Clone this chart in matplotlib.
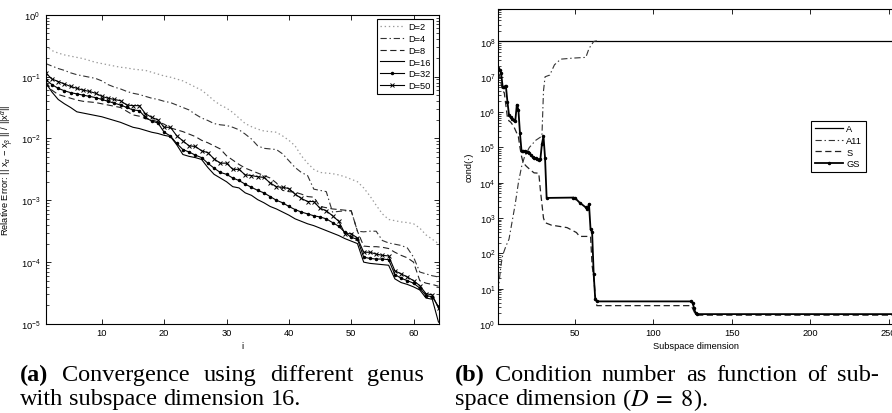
#plot convergence and condition number figures
import matplotlib
matplotlib.use('Agg')
import matplotlib.pyplot as plt
import numpy as np
from matplotlib.transforms import IdentityTransform

# ---- data: left panel, log10 of relative error per iteration i ----
iters = list(range(1, 65))
d2_log = [-0.50, -0.58, -0.62, -0.65, -0.67, -0.69, -0.71, -0.74, -0.77, -0.79,
          -0.81, -0.83, -0.85, -0.86, -0.88, -0.89, -0.90, -0.93, -0.96, -0.99,
          -1.01, -1.04, -1.07, -1.12, -1.17, -1.22, -1.30, -1.39, -1.46, -1.51,
          -1.58, -1.67, -1.76, -1.81, -1.85, -1.88, -1.89, -1.90, -1.96, -2.03,
          -2.12, -2.28, -2.40, -2.50, -2.55, -2.56, -2.57, -2.59, -2.62, -2.66,
          -2.70, -2.80, -2.93, -3.08, -3.22, -3.31, -3.33, -3.35, -3.36, -3.38,
          -3.45, -3.56, -3.63, -3.70]
d4_log = [-0.79, -0.83, -0.87, -0.90, -0.94, -0.97, -0.99, -1.01, -1.03, -1.07,
          -1.13, -1.17, -1.20, -1.24, -1.27, -1.29, -1.32, -1.35, -1.37, -1.40,
          -1.42, -1.46, -1.50, -1.54, -1.61, -1.67, -1.71, -1.76, -1.78, -1.79,
          -1.82, -1.86, -1.93, -2.01, -2.12, -2.16, -2.17, -2.18, -2.25, -2.36,
          -2.47, -2.55, -2.60, -2.82, -2.84, -2.86, -3.19, -3.18, -3.17, -3.17,
          -3.50, -3.51, -3.50, -3.50, -3.65, -3.69, -3.71, -3.73, -3.77, -3.92,
          -4.16, -4.19, -4.22, -4.24]
d8_log = [-1.08, -1.22, -1.29, -1.32, -1.35, -1.38, -1.40, -1.41, -1.42, -1.44,
          -1.46, -1.48, -1.50, -1.56, -1.62, -1.64, -1.68, -1.70, -1.73, -1.77,
          -1.83, -1.86, -1.89, -1.93, -1.97, -2.03, -2.07, -2.12, -2.17, -2.28,
          -2.35, -2.42, -2.48, -2.52, -2.56, -2.60, -2.64, -2.72, -2.84, -2.86,
          -2.87, -2.90, -2.94, -2.95, -3.10, -3.12, -3.14, -3.15, -3.16, -3.17,
          -3.50, -3.74, -3.75, -3.75, -3.76, -3.78, -3.84, -3.89, -3.93, -4.00,
          -4.30, -4.34, -4.36, -4.39]
d16_log = [-1.10, -1.25, -1.37, -1.44, -1.50, -1.57, -1.59, -1.61, -1.63, -1.65,
           -1.68, -1.71, -1.74, -1.78, -1.82, -1.84, -1.87, -1.90, -1.92, -1.95,
           -1.97, -2.10, -2.26, -2.29, -2.31, -2.34, -2.47, -2.58, -2.64, -2.70,
           -2.78, -2.80, -2.88, -2.92, -2.99, -3.04, -3.10, -3.14, -3.19, -3.24,
           -3.30, -3.34, -3.38, -3.41, -3.45, -3.49, -3.53, -3.57, -3.62, -3.66,
           -3.70, -4.00, -4.02, -4.03, -4.04, -4.05, -4.27, -4.33, -4.36, -4.40,
           -4.45, -4.58, -4.60, -4.97]
d32_log = [-1.05, -1.13, -1.19, -1.23, -1.26, -1.28, -1.30, -1.32, -1.34, -1.37,
           -1.40, -1.43, -1.46, -1.50, -1.54, -1.55, -1.66, -1.72, -1.75, -1.90,
           -1.96, -2.08, -2.18, -2.22, -2.27, -2.31, -2.40, -2.48, -2.55, -2.58,
           -2.64, -2.68, -2.74, -2.79, -2.84, -2.88, -2.94, -3.00, -3.04, -3.10,
           -3.15, -3.19, -3.22, -3.25, -3.27, -3.30, -3.36, -3.42, -3.52, -3.60,
           -3.63, -3.92, -3.94, -3.95, -3.95, -3.96, -4.20, -4.26, -4.30, -4.34,
           -4.42, -4.54, -4.56, -4.72]
d50_log = [-0.94, -1.04, -1.08, -1.12, -1.16, -1.19, -1.22, -1.24, -1.27, -1.32,
           -1.35, -1.37, -1.39, -1.46, -1.47, -1.47, -1.60, -1.66, -1.70, -1.82,
           -1.82, -1.955, -2.04, -2.12, -2.13, -2.20, -2.23, -2.33, -2.40, -2.40,
           -2.50, -2.50, -2.59, -2.60, -2.62, -2.63, -2.72, -2.78, -2.79, -2.81,
           -2.90, -2.97, -3.02, -3.02, -3.13, -3.17, -3.25, -3.34, -3.54, -3.54,
           -3.61, -3.84, -3.84, -3.87, -3.89, -3.90, -4.14, -4.19, -4.24, -4.30,
           -4.38, -4.51, -4.53, -4.74]

# ---- data: right panel, log10 of condition number vs subspace dimension ----
a_dim = [1, 256]
a_log = [8.02, 8.02]
a11_dim = [1, 2, 3, 4, 6, 8, 10, 12, 14, 16, 18, 21, 25, 29, 30, 31, 34, 37, 41, 49, 57, 59, 62, 64]
a11_log = [0.90, 1.30, 1.70, 1.95, 2.20, 2.40, 2.90, 3.40, 4.00, 4.45, 4.75, 5.00,
           5.20, 5.32, 6.60, 7.00, 7.05, 7.34, 7.50, 7.53, 7.55, 7.80, 8.00, 8.02]
s_dim = [1, 2, 3, 4, 5, 6, 7, 8, 9, 11, 12, 13, 14, 15, 16, 17, 19, 22, 24, 27, 28,
         30, 31, 35, 45, 51, 53, 60, 61, 62, 63, 64, 124, 125, 126, 127, 128, 256]
s_log = [7.10, 7.05, 6.80, 6.60, 6.55, 6.20, 5.85, 5.75, 5.72, 5.60, 5.50, 5.40,
         5.30, 5.00, 4.75, 4.57, 4.47, 4.35, 4.28, 4.27, 3.80, 3.00, 2.87, 2.80,
         2.73, 2.59, 2.48, 2.48, 1.65, 1.35, 0.80, 0.52, 0.52, 0.45, 0.35, 0.27,
         0.25, 0.25]
gs_dim = [1, 2, 3, 4, 5, 6, 7, 8, 9, 10, 11, 12, 13, 14, 15, 16, 17, 18, 19, 20,
          21, 22, 23, 24, 25, 26, 27, 28, 29, 30, 31, 32, 49, 50, 53, 57, 58, 59,
          60, 61, 62, 63, 64, 124, 125, 126, 127, 128, 256]
gs_log = [7.25, 7.20, 7.10, 6.70, 6.72, 6.75, 6.30, 5.92, 5.85, 5.80, 5.77, 5.74,
          6.21, 6.07, 5.40, 4.90, 4.90, 4.90, 4.88, 4.86, 4.84, 4.78, 4.73, 4.71,
          4.69, 4.66, 4.65, 4.66, 5.10, 5.32, 4.70, 3.57, 3.58, 3.57, 3.44, 3.30,
          3.26, 3.40, 2.68, 2.60, 1.41, 0.70, 0.64, 0.64, 0.60, 0.45, 0.30, 0.28,
          0.28]

plt.rcParams.update({
    'font.family': ['Liberation Sans', 'DejaVu Sans'],
    'font.size': 6.7,
    'mathtext.fontset': 'custom',
    'mathtext.rm': 'Liberation Sans',
    'mathtext.it': 'Liberation Sans:italic',
    'mathtext.bf': 'Liberation Sans:bold',
    'lines.scale_dashes': False,
    'xtick.direction': 'in', 'ytick.direction': 'in',
    'xtick.top': True, 'ytick.right': True,
    'xtick.major.size': 3.5, 'ytick.major.size': 3.5,
    'xtick.minor.size': 2, 'ytick.minor.size': 2,
    'xtick.major.width': 0.6, 'ytick.major.width': 0.6,
    'ytick.minor.width': 0.5,
    'axes.linewidth': 0.8,
})

W, H = 892, 414
fig = plt.figure(figsize=(W / 100, H / 100), dpi=100)

DASH = (4.5, 2.5)
DASHDOT = (4.5, 2.0, 1.0, 2.0)
DOT = (1.0, 2.0)

# ---- left panel ----
ax1 = fig.add_axes([45.7 / W, 89 / H, 392.8 / W, 309.3 / H])
ax1.semilogy(iters, 10.0 ** np.array(d2_log), color='#9a9a9a', lw=0.9, dashes=DOT, label='D=2')
ax1.semilogy(iters, 10.0 ** np.array(d4_log), color='#333333', lw=0.8, dashes=DASHDOT, label='D=4')
ax1.semilogy(iters, 10.0 ** np.array(d8_log), color='#222222', lw=0.8, dashes=DASH, label='D=8')
ax1.semilogy(iters, 10.0 ** np.array(d16_log), color='black', lw=0.8, label='D=16')
ax1.semilogy(iters, 10.0 ** np.array(d32_log), color='black', lw=0.8, marker='.', ms=3, label='D=32')
ax1.semilogy(iters, 10.0 ** np.array(d50_log), color='black', lw=0.8, marker='x', ms=3.2, mew=0.7,
             label='D=50')
ax1.set_xlim(1, 64)
ax1.set_ylim(1e-5, 1)
ax1.set_xticks([10, 20, 30, 40, 50, 60])
ax1.tick_params(axis='x', pad=3)
ax1.tick_params(axis='y', pad=4)
ax1.set_xlabel('i')
ax1.xaxis.set_label_coords(0.5, -0.055)
ax1.set_ylabel(r'Relative Error: || x$_\alpha$ $-$ x$_\beta$ || / ||x$^\alpha$||')
ax1.yaxis.set_label_coords(-0.076, 0.5)
leg1 = ax1.legend(loc='upper right', bbox_to_anchor=(0.987, 0.986), borderaxespad=0,
                  fancybox=False, framealpha=1, edgecolor='black', handlelength=2.6,
                  handletextpad=0.4, labelspacing=0.3, borderpad=0.35, fontsize=6.7)
leg1.get_frame().set_linewidth(0.8)

# ---- right panel ----
ax2 = fig.add_axes([498 / W, 89 / H, 400 / W, 315 / H])
ax2.semilogy(a_dim, 10.0 ** np.array(a_log), color='black', lw=0.9, label='A')
ax2.semilogy(a11_dim, 10.0 ** np.array(a11_log), color='#333333', lw=0.8, dashes=DASHDOT, label='A11')
ax2.semilogy(s_dim, 10.0 ** np.array(s_log), color='#222222', lw=0.9, dashes=DASH, label='S')
ax2.semilogy(gs_dim, 10.0 ** np.array(gs_log), color='black', lw=1.3, marker='.', ms=3, label='GS')
ax2.set_xlim(1, 256)
ax2.set_ylim(1, 10 ** 8.92)
ax2.set_xticks([50, 100, 150, 200, 250])
ax2.set_yticks([10.0 ** k for k in range(9)])
ax2.tick_params(axis='x', pad=3)
ax2.tick_params(axis='y', pad=2)
ax2.set_xlabel('Subspace dimension')
ax2.xaxis.set_label_coords(0.495, -0.055)
ax2.set_ylabel('cond(\u00b7)')
ax2.yaxis.set_label_coords(-0.062, 0.5)
leg2 = ax2.legend(loc='upper right', bbox_to_anchor=(0.919, 0.645), borderaxespad=0,
                  fancybox=False, framealpha=1, edgecolor='black', handlelength=3.0,
                  handletextpad=0.4, labelspacing=0.3, borderpad=0.35, fontsize=6.7)
leg2.get_frame().set_linewidth(0.8)

# ---- captions ----
CAP_FS = 17.5
renderer = fig.canvas.get_renderer()


def caption_line(words, x0, x1, y, justify):
    texts = []
    for w in words:
        bold = w in ('(a)', '(b)')
        t = fig.text(0, y, w, fontsize=CAP_FS, family='Liberation Serif',
                     weight='bold' if bold else 'normal', va='center_baseline', ha='left',
                     transform=IdentityTransform(), math_fontfamily='stix')
        texts.append(t)
    widths = [t.get_window_extent(renderer=renderer).width for t in texts]
    if justify and len(words) > 1:
        gap = (x1 - x0 - sum(widths)) / (len(words) - 1)
    else:
        gap = CAP_FS * 100 / 72 * 0.25
    x = x0
    for t, wd in zip(texts, widths):
        t.set_x(x)
        x += wd + gap


caption_line(['(a)', 'Convergence', 'using', 'different', 'genus'], 20, 424, H - 373, True)
caption_line(['with', 'subspace', 'dimension', '16.'], 20, 424, H - 397, False)
caption_line(['(b)', 'Condition', 'number', 'as', 'function', 'of', 'sub-'], 455, 879, H - 373, True)
caption_line(['space', 'dimension', r'($D\;=\;8$).'], 455, 879, H - 397, False)

fig.savefig('out.png', dpi=100)
